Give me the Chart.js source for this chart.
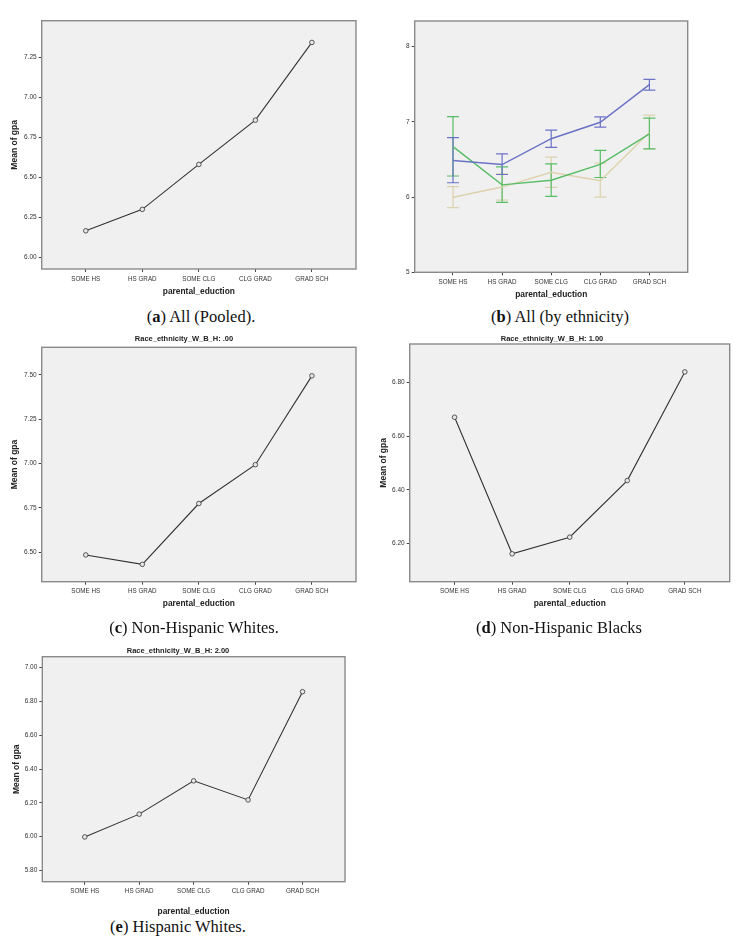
<!DOCTYPE html>
<html>
<head>
<meta charset="utf-8">
<script src="https://cdn.jsdelivr.net/npm/chart.js@4.4.1/dist/chart.umd.min.js"></script>
<style>
  body { margin: 0; background: #fff; }
  #page { position: relative; width: 754px; height: 942px; overflow: hidden; }
  .panel { position: absolute; }
  .cap { position: absolute; font-family: "Liberation Serif", serif; font-size: 16.5px; color: #111;
         transform: translate(-50%, -50%); white-space: nowrap; }
  .ptitle { position: absolute; font-family: "Liberation Sans", Arial, sans-serif; font-weight: bold;
            font-size: 7.5px; color: #222; transform: translate(-50%, -50%); white-space: nowrap; }
</style>
</head>
<body>
<div id="page">
  <div class="panel" id="pa"><canvas id="ca"></canvas></div>
  <div class="panel" id="pb"><canvas id="cb"></canvas></div>
  <div class="panel" id="pc"><canvas id="cc"></canvas></div>
  <div class="panel" id="pd"><canvas id="cd"></canvas></div>
  <div class="panel" id="pe"><canvas id="ce"></canvas></div>

  <div class="ptitle" style="left:184px;top:338px">Race_ethnicity_W_B_H: .00</div>
  <div class="ptitle" style="left:552px;top:338px">Race_ethnicity_W_B_H: 1.00</div>
  <div class="ptitle" style="left:178px;top:650px">Race_ethnicity_W_B_H: 2.00</div>

  <div class="cap" style="left:201px;top:317px">(<b>a</b>) All (Pooled).</div>
  <div class="cap" style="left:560px;top:317px">(<b>b</b>) All (by ethnicity)</div>
  <div class="cap" style="left:194px;top:628px">(<b>c</b>) Non-Hispanic Whites.</div>
  <div class="cap" style="left:559px;top:628px">(<b>d</b>) Non-Hispanic Blacks</div>
  <div class="cap" style="left:178px;top:927px">(<b>e</b>) Hispanic Whites.</div>
</div>

<script>
// categories on the x axis
var categories = ['SOME HS', 'HS GRAD', 'SOME CLG', 'CLG GRAD', 'GRAD SCH'];

// mean gpa by parental education
var pooled   = [6.166, 6.300, 6.581, 6.858, 7.344];
var whites   = [6.485, 6.432, 6.775, 6.994, 7.495];
var blacks   = [6.671, 6.162, 6.224, 6.435, 6.840];
var hispanic = [5.998, 6.133, 6.330, 6.217, 6.858];

// error bar ends for panel (b)
var whitesLow    = [6.19, 6.30, 6.66, 6.93, 7.42];
var whitesHigh   = [6.79, 6.575, 6.89, 7.065, 7.565];
var blacksLow    = [6.28, 5.93, 6.01, 6.26, 6.64];
var blacksHigh   = [7.07, 6.40, 6.44, 6.62, 7.05];
var hispanicLow  = [5.86, 5.96, 6.13, 6.00, 6.64];
var hispanicHigh = [6.14, 6.31, 6.53, 6.45, 7.09];

// y tick values
var yTicksA = [6.00, 6.25, 6.50, 6.75, 7.00, 7.25];
var yTicksB = [5, 6, 7, 8];
var yTicksC = [6.50, 6.75, 7.00, 7.25, 7.50];
var yTicksD = [6.20, 6.40, 6.60, 6.80];
var yTicksE = [5.80, 6.00, 6.20, 6.40, 6.60, 6.80, 7.00];

Chart.defaults.font.family = '"Liberation Sans", Arial, sans-serif';

var plotBg = {
  id: 'plotBg',
  beforeDraw: function(chart) {
    var a = chart.chartArea, ctx = chart.ctx;
    ctx.save();
    ctx.fillStyle = '#f0f0f0';
    ctx.fillRect(a.left, a.top, a.right - a.left, a.bottom - a.top);
    ctx.restore();
  },
  afterDraw: function(chart) {
    var a = chart.chartArea, ctx = chart.ctx;
    ctx.save();
    ctx.strokeStyle = '#8a8a8a';
    ctx.lineWidth = 1.4;
    ctx.strokeRect(a.left, a.top, a.right - a.left, a.bottom - a.top);
    ctx.restore();
  }
};

// draws I-beam error bars from dataset.errLow / dataset.errHigh
var errorBars = {
  id: 'errorBars',
  beforeDatasetsDraw: function(chart) {
    var ctx = chart.ctx;
    var xs = chart.scales.x, ys = chart.scales.y;
    for (var d = chart.data.datasets.length - 1; d >= 0; d--) {
      var ds = chart.data.datasets[d];
      if (!ds.errLow) continue;
      ctx.save();
      ctx.strokeStyle = ds.borderColor;
      ctx.lineWidth = 1.2;
      for (var i = 0; i < ds.errLow.length; i++) {
        var px = xs.getPixelForValue(i);
        var lo = ys.getPixelForValue(ds.errLow[i]);
        var hi = ys.getPixelForValue(ds.errHigh[i]);
        ctx.beginPath();
        ctx.moveTo(px, lo); ctx.lineTo(px, hi);
        ctx.moveTo(px - 6, lo); ctx.lineTo(px + 6, lo);
        ctx.moveTo(px - 6, hi); ctx.lineTo(px + 6, hi);
        ctx.stroke();
      }
      ctx.restore();
    }
  }
};

function toPoints(arr) {
  return arr.map(function(v, i) { return {x: i, y: v}; });
}

function blackLine(arr) {
  return {
    data: toPoints(arr),
    borderColor: '#333',
    borderWidth: 1.1,
    pointRadius: 2.3,
    pointBorderWidth: 0.8,
    pointBorderColor: '#333',
    pointBackgroundColor: '#e6e6e6',
    tension: 0
  };
}

function colourLine(arr, colour, low, high) {
  return {
    data: toPoints(arr),
    borderColor: colour,
    borderWidth: 1.4,
    pointRadius: 0,
    tension: 0,
    errLow: low,
    errHigh: high
  };
}

function makePanel(id, geo, datasets, yMin, yMax, yTicks, digits, yTitle) {
  var box = document.getElementById('p' + id);
  box.style.left = geo.left + 'px';
  box.style.top = geo.top + 'px';
  var cv = document.getElementById('c' + id);
  cv.width = geo.w; cv.height = geo.h;
  cv.style.width = geo.w + 'px'; cv.style.height = geo.h + 'px';

  var tickGrid = {display: true, drawOnChartArea: false, drawTicks: true, tickLength: 3, color: '#444'};

  return new Chart(cv, {
    type: 'line',
    data: {datasets: datasets},
    options: {
      responsive: false,
      animation: false,
      layout: {padding: {top: geo.pt, right: geo.pr, left: 0, bottom: 0}},
      plugins: {legend: {display: false}, tooltip: {enabled: false}},
      scales: {
        x: {
          type: 'linear', min: -0.78, max: 4.78,
          afterBuildTicks: function(s) { s.ticks = categories.map(function(c, i) { return {value: i}; }); },
          afterFit: function(s) { s.height = geo.xh; },
          ticks: {
            autoSkip: false, maxRotation: 0, padding: 3, color: '#333', font: {size: 6.3},
            callback: function(v) { return categories[v]; }
          },
          grid: tickGrid,
          border: {display: false},
          title: {display: true, text: 'parental_eduction', color: '#222', padding: 0,
                  font: {size: 8.4, weight: 'bold'}}
        },
        y: {
          type: 'linear', min: yMin, max: yMax,
          afterBuildTicks: function(s) { s.ticks = yTicks.map(function(v) { return {value: v}; }); },
          afterFit: function(s) { s.width = geo.yw; },
          ticks: {
            padding: 2, color: '#333', font: {size: 6.5},
            callback: function(v) { return v.toFixed(digits); }
          },
          grid: tickGrid,
          border: {display: false},
          title: {display: !!yTitle, text: yTitle || '', color: '#222', padding: 0,
                  font: {size: 8.5, weight: 'bold'}}
        }
      }
    },
    plugins: [plotBg, errorBars]
  });
}

// (a) pooled
makePanel('a', {left: 10, top: 0, w: 367, h: 297, yw: 31.7, pt: 20.7, pr: 21, xh: 28},
  [blackLine(pooled)], 5.927, 7.48, yTicksA, 2, 'Mean of gpa');

// (b) by ethnicity with error bars
makePanel('b', {left: 385, top: 0, w: 369, h: 300, yw: 29.7, pt: 21, pr: 66.3, xh: 27.7},
  [colourLine(whites, '#6a72c6', whitesLow, whitesHigh),
   colourLine(blacks, '#58bd66', blacksLow, blacksHigh),
   colourLine(hispanic, '#dcd2ae', hispanicLow, hispanicHigh)],
  5, 8.34, yTicksB, 0, null);

// (c) non-hispanic whites
makePanel('c', {left: 10, top: 337, w: 367, h: 272, yw: 31.7, pt: 10.3, pr: 21, xh: 27.3},
  [blackLine(whites)], 6.334, 7.656, yTicksC, 2, 'Mean of gpa');

// (d) non-hispanic blacks
makePanel('d', {left: 379, top: 334, w: 375, h: 275, yw: 30.7, pt: 10, pr: 24.3, xh: 27.3},
  [blackLine(blacks)], 6.058, 6.944, yTicksD, 2, 'Mean of gpa');

// (e) hispanic whites
makePanel('e', {left: 12, top: 647, w: 365, h: 270, yw: 30.3, pt: 9.7, pr: 32, xh: 35.3},
  [blackLine(hispanic)], 5.733, 7.065, yTicksE, 2, 'Mean of gpa');
</script>
</body>
</html>
